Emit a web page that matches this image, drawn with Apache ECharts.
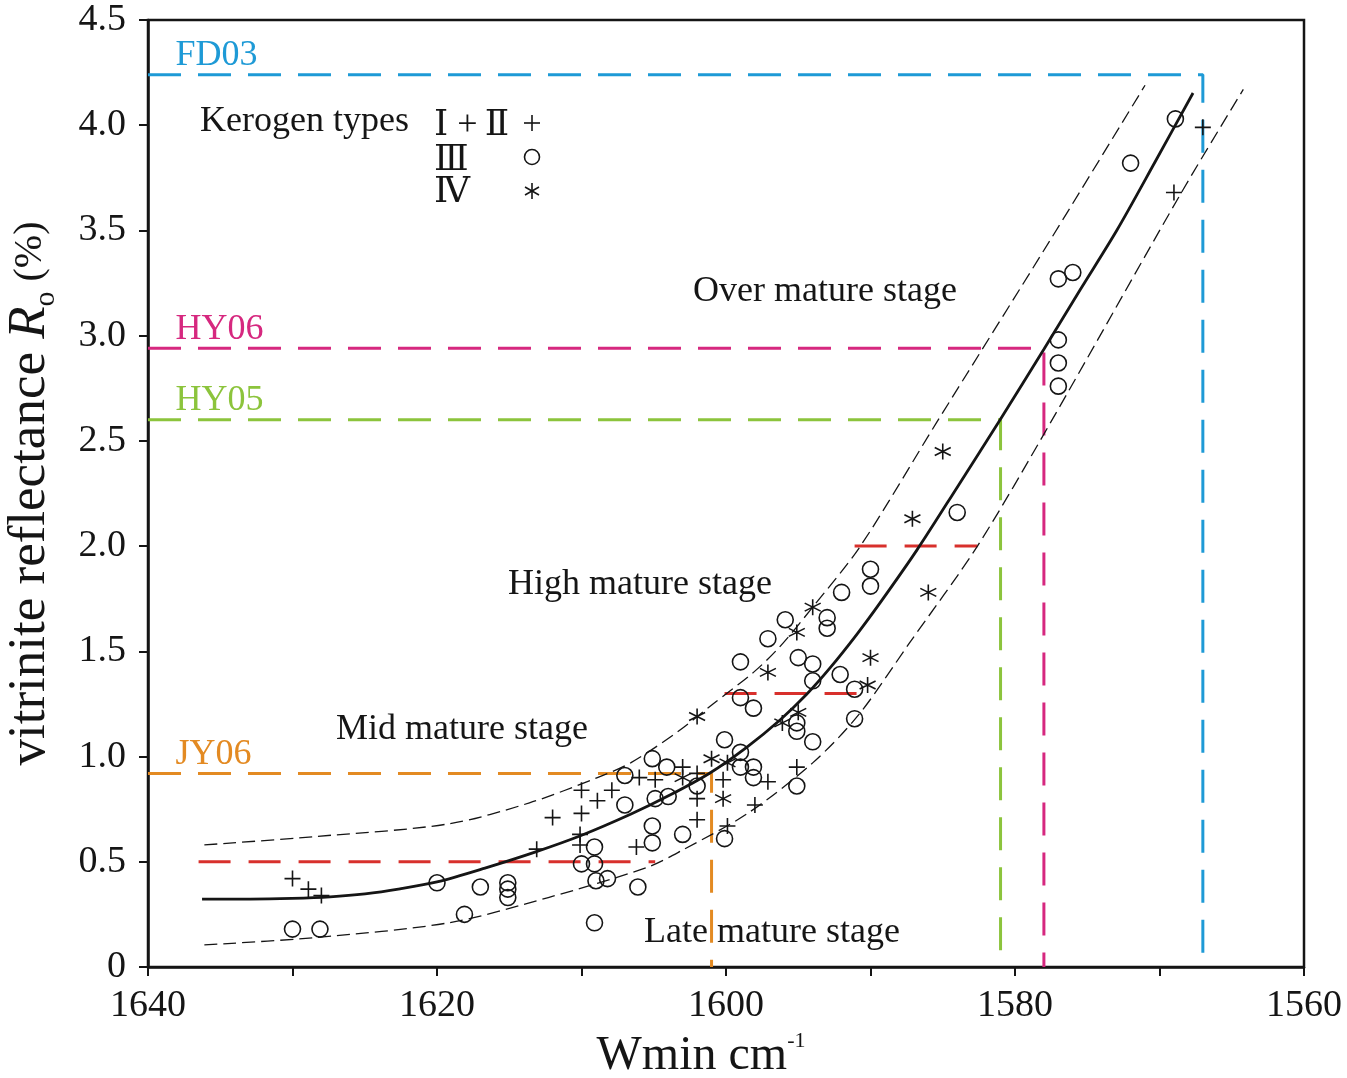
<!DOCTYPE html>
<html><head><meta charset="utf-8">
<script src="https://cdn.jsdelivr.net/npm/echarts/dist/echarts.min.js"></script>
<style>html,body{margin:0;padding:0;background:#fff}#c{width:1347px;height:1078px}</style>
</head><body><div id="c"></div>
<script>
// ---------- data ----------
const xTickLabels = [1640, 1620, 1600, 1580, 1560];
const yTickLabels = [0, 0.5, 1.0, 1.5, 2.0, 2.5, 3.0, 3.5, 4.0, 4.5];

// Kerogen type I+II (plus)
const typeI_II = [
  [1630.0,0.42],[1628.9,0.37],[1628.0,0.34],[1613.1,0.56],[1610.1,0.58],[1606.2,0.57],
  [1612.0,0.71],[1610.1,0.63],[1610.0,0.73],[1610.0,0.84],[1608.9,0.79],[1607.9,0.84],
  [1606.0,0.90],[1604.9,0.89],[1603.0,0.95],[1602.0,0.92],[1602.0,0.80],[1602.0,0.70],
  [1600.2,0.89],[1599.9,0.67],[1598.0,0.77],[1597.1,0.88],[1595.1,0.95],
  [1569.0,3.68],[1567.0,3.99]
];
// Kerogen type III (circle)
const typeIII = [
  [1630.0,0.18],[1628.1,0.18],[1620.0,0.40],[1618.1,0.25],[1617.0,0.38],[1615.1,0.40],
  [1615.1,0.37],[1615.1,0.33],[1610.0,0.49],[1609.1,0.57],[1609.1,0.49],[1609.0,0.41],
  [1608.2,0.42],[1606.1,0.38],[1609.1,0.21],[1607.0,0.77],[1605.1,0.99],[1607.0,0.91],
  [1604.1,0.95],[1604.9,0.80],[1604.0,0.81],[1605.1,0.67],[1605.1,0.59],[1603.0,0.63],
  [1602.0,0.86],[1600.1,1.08],[1600.1,0.61],[1599.0,1.02],[1599.0,0.95],[1598.1,0.95],
  [1598.1,0.90],[1595.1,0.86],[1599.0,1.45],[1599.0,1.28],[1598.1,1.23],[1597.1,1.56],
  [1595.9,1.65],[1595.0,1.47],[1594.0,1.44],[1594.0,1.36],[1595.1,1.16],[1595.1,1.12],
  [1594.0,1.07],[1593.0,1.66],[1593.0,1.61],[1592.0,1.78],[1590.0,1.89],[1590.0,1.81],
  [1592.1,1.39],[1591.1,1.32],[1591.1,1.18],[1584.0,2.16],[1577.0,3.27],[1576.0,3.30],
  [1577.0,2.98],[1577.0,2.87],[1577.0,2.76],[1572.0,3.82],[1568.9,4.03]
];
// Kerogen type IV (asterisk)
const typeIV = [
  [1603.0,0.90],[1602.0,1.19],[1601.0,0.99],[1599.9,0.97],[1600.2,0.80],[1597.1,1.40],
  [1596.1,1.16],[1595.0,1.21],[1595.1,1.59],[1594.0,1.71],[1590.0,1.47],[1590.2,1.34],
  [1587.1,2.13],[1586.0,1.78],[1585.0,2.45]
];

// fitted trend and envelope
const fitCurve = [
  [1636.26,0.323],[1632.94,0.323],[1630.03,0.326],[1627.40,0.333],[1624.98,0.347],
  [1622.56,0.371],[1620.0,0.404],[1616.68,0.470],[1613.22,0.546],[1610.03,0.625],
  [1606.57,0.727],[1603.88,0.817],[1601.11,0.922],[1598.55,1.045],[1596.26,1.174],
  [1594.40,1.297],[1592.80,1.421],[1590.93,1.582],[1589.34,1.730],[1586.78,1.982],
  [1583.94,2.286],[1581.04,2.599],[1577.99,2.937],[1575.5,3.217],[1572.94,3.502],
  [1570.31,3.825],[1567.68,4.153]
];
const upperCurve = [
  [1636.1,0.58],[1628.4,0.62],[1619.2,0.68],[1613.6,0.78],[1608.9,0.90],[1606.6,0.97],
  [1603.3,1.12],[1600.9,1.25],[1598.1,1.40],[1596.3,1.52],[1594.0,1.71],[1590.7,2.00],
  [1585.4,2.59],[1577.6,3.45],[1571.0,4.19]
];
const lowerCurve = [
  [1636.1,0.105],[1628.4,0.14],[1619.2,0.21],[1612.3,0.33],[1605.4,0.475],[1603.0,0.556],
  [1598.5,0.73],[1594.0,0.97],[1590.8,1.20],[1587.3,1.54],[1582.6,2.00],[1577.6,2.58],
  [1568.4,3.69],[1564.2,4.17]
];

// stage boundaries (red dashed)
const boundaryLevels = [0.5, 1.3, 2.0];
const boundaryFrom = [1636.5, 1600.1, 1591.1];
const boundaryTo = [1604.9, 1590.6, 1582.6];

// samples
const sampleNames = ['FD03', 'HY06', 'HY05', 'JY06'];
const sampleRo = [4.24, 2.94, 2.60, 0.92];
const sampleW = [1567.0, 1578.0, 1581.0, 1601.0];
const sampleColors = ['#1e9ad6', '#d6287f', '#8cc43c', '#e38a22'];

// stage texts
const stageNames = ['Over mature stage', 'High mature stage', 'Mid mature stage', 'Late mature stage'];
const stageX = [1593.15, 1605.95, 1618.27, 1596.82];
const stageY = [3.21, 1.815, 1.126, 0.166];

// ---------- chart ----------
const SERIF = 'Liberation Serif, Times New Roman, DejaVu Serif, serif';
const INK = '#151515';
const plusPath = 'path://M0,5L10,5M5,0L5,10';
const starPath = 'path://M5,0L5,10M0.67,2.5L9.33,7.5M0.67,7.5L9.33,2.5';

const series = [];
sampleNames.forEach((n, i) => {
  series.push({
    type: 'line', silent: true, symbol: 'none', z: 2,
    data: [[1640, sampleRo[i]], [sampleW[i], sampleRo[i]], [sampleW[i], 0]],
    lineStyle: { color: sampleColors[i], width: 3, type: [33, 17] }
  });
});
boundaryLevels.forEach((lv, i) => {
  series.push({
    type: 'line', silent: true, symbol: 'none', z: 2,
    data: [[boundaryFrom[i], lv], [boundaryTo[i], lv]],
    lineStyle: { color: '#d8302c', width: 3, type: [32, 18] }
  });
});
[upperCurve, lowerCurve].forEach(c => {
  series.push({
    type: 'line', silent: true, symbol: 'none', smooth: 0.3, z: 3,
    data: c, lineStyle: { color: INK, width: 1.3, type: [13, 6] }
  });
});
series.push({
  type: 'line', silent: true, symbol: 'none', smooth: 0.3, z: 4,
  data: fitCurve, lineStyle: { color: INK, width: 2.8 }
});
const markStyle = { color: 'rgba(0,0,0,0)', borderColor: INK, borderWidth: 1.6, opacity: 1 };
series.push({ type: 'scatter', silent: true, z: 5, symbol: plusPath, symbolSize: 16, data: typeI_II, itemStyle: markStyle });
series.push({ type: 'scatter', silent: true, z: 5, symbol: 'circle', symbolSize: 16, data: typeIII, itemStyle: markStyle });
series.push({ type: 'scatter', silent: true, z: 5, symbol: starPath, symbolSize: 16, data: typeIV, itemStyle: markStyle });
series.push({
  type: 'scatter', silent: true, z: 6, symbolSize: 0, itemStyle: { opacity: 1 },
  data: sampleNames.map((n, i) => ({
    name: n, value: [1638.1, sampleRo[i]],
    label: { color: sampleColors[i] }
  })),
  label: { show: true, position: 'top', align: 'left', distance: 1, formatter: '{b}',
           fontFamily: SERIF, fontSize: 36 }
});
series.push({
  type: 'scatter', silent: true, z: 6, symbolSize: 0, itemStyle: { opacity: 1 },
  data: stageNames.map((n, i) => ({ name: n, value: [stageX[i], stageY[i]] })),
  label: { show: true, position: 'inside', formatter: '{b}', color: INK, textBorderWidth: 0,
           fontFamily: SERIF, fontSize: 36 }
});

const chart = echarts.init(document.getElementById('c'));
chart.setOption({
  animation: false,
  backgroundColor: '#fff',
  grid: { left: 148, right: 43, top: 20, bottom: 111, show: true, borderColor: INK, borderWidth: 2.5,
          outerBoundsMode: 'none', containLabel: false },
  xAxis: {
    type: 'value', inverse: true, min: 1560, max: 1640, interval: 10,
    axisLine: { lineStyle: { color: INK, width: 2.5 } },
    axisTick: { length: 9, lineStyle: { color: INK, width: 2 } },
    splitLine: { show: false },
    axisLabel: { formatter: v => xTickLabels.includes(v) ? String(v) : '', color: INK,
                 fontFamily: SERIF, fontSize: 38, margin: 20 },
    name: '{a|Wmin cm}{s|-1}', nameLocation: 'middle', nameGap: 62,
    nameTextStyle: { padding: [0, 50, 0, 0],
      rich: { a: { fontFamily: SERIF, fontSize: 48, color: INK, lineHeight: 52 },
              s: { fontFamily: SERIF, fontSize: 22, color: INK, verticalAlign: 'top', lineHeight: 52 } } }
  },
  yAxis: {
    type: 'value', min: 0, max: 4.5, interval: 0.5,
    axisLine: { lineStyle: { color: INK, width: 2.5 } },
    axisTick: { length: 9, lineStyle: { color: INK, width: 2 } },
    splitLine: { show: false },
    axisLabel: { formatter: v => v === 0 ? '0' : v.toFixed(1), color: INK,
                 fontFamily: SERIF, fontSize: 38, margin: 22 },
    name: '{a|vitrinite reflectance }{i|R}{s|o}{p| (%)}', nameLocation: 'middle', nameGap: 87, nameRotate: 90,
    nameTextStyle: {
      rich: { a: { fontFamily: SERIF, fontSize: 53, color: INK, lineHeight: 62 },
              i: { fontFamily: SERIF, fontSize: 53, fontStyle: 'italic', color: INK, lineHeight: 62 },
              s: { fontFamily: SERIF, fontSize: 30, color: INK, verticalAlign: 'bottom', lineHeight: 34 },
              p: { fontFamily: SERIF, fontSize: 40, color: INK, lineHeight: 62 } } }
  },
  graphic: [
    { type: 'text', left: 200, top: 104, style: { text: 'Kerogen types', font: '36px ' + SERIF, fill: INK } },
    { type: 'text', left: 434, top: 108, style: { text: 'Ⅰ +\u2009Ⅱ', font: '36px ' + SERIF, fill: INK } },
    { type: 'text', left: 434, top: 143, style: { text: 'Ⅲ', font: '36px ' + SERIF, fill: INK } },
    { type: 'text', left: 434, top: 175, style: { text: 'Ⅳ', font: '36px ' + SERIF, fill: INK } },
    { type: 'line', shape: { x1: 524, y1: 123, x2: 540, y2: 123 }, style: { stroke: INK, lineWidth: 1.6 } },
    { type: 'line', shape: { x1: 532, y1: 115, x2: 532, y2: 131 }, style: { stroke: INK, lineWidth: 1.6 } },
    { type: 'circle', shape: { cx: 532, cy: 157, r: 7.5 }, style: { stroke: INK, fill: 'none', lineWidth: 1.6 } },
    { type: 'line', shape: { x1: 532, y1: 183, x2: 532, y2: 199 }, style: { stroke: INK, lineWidth: 1.6 } },
    { type: 'line', shape: { x1: 525, y1: 187, x2: 539, y2: 195 }, style: { stroke: INK, lineWidth: 1.6 } },
    { type: 'line', shape: { x1: 525, y1: 195, x2: 539, y2: 187 }, style: { stroke: INK, lineWidth: 1.6 } }
  ],
  series
});
</script>
</body></html>
